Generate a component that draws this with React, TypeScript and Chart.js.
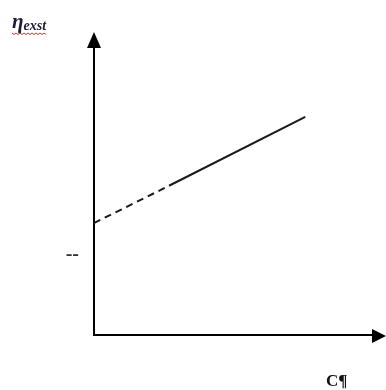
import React, { useEffect, useRef } from "react";
import { Chart, registerables } from "chart.js";

Chart.register(...registerables);

// ---- data ----
const xValues = [0, 2.7, 7.6];
const yValues = [3.9, 5.2, 7.6];
const dashedSegments = [0];
const yTickValues = [2.8];
const yTickLabels = ["--"];
const yAxisLabel = "η";
const yAxisSub = "exst";
const xAxisLabel = "C¶";
const X_MIN = 0;
const X_MAX = 10;
const Y_MIN = 0;
const Y_MAX = 10;

export default function App() {
  const ref = useRef<HTMLCanvasElement>(null);

  useEffect(() => {
    if (!ref.current) return;

    const decorations = {
      id: "decorations",
      afterDraw(chart: any) {
        const { ctx, chartArea: a } = chart;
        ctx.save();
        ctx.fillStyle = "#000";
        // y arrow head
        ctx.beginPath();
        ctx.moveTo(a.left, a.top - 16);
        ctx.lineTo(a.left - 7, a.top);
        ctx.lineTo(a.left + 7, a.top);
        ctx.closePath();
        ctx.fill();
        // x arrow head
        ctx.beginPath();
        ctx.moveTo(a.right + 14, a.bottom + 1);
        ctx.lineTo(a.right, a.bottom - 6);
        ctx.lineTo(a.right, a.bottom + 8);
        ctx.closePath();
        ctx.fill();

        // y axis label
        ctx.fillStyle = "#1c1c3a";
        ctx.textBaseline = "alphabetic";
        ctx.textAlign = "left";
        ctx.font = "italic bold 21px 'Liberation Serif'";
        ctx.fillText(yAxisLabel, 12, 28);
        const w = ctx.measureText(yAxisLabel).width;
        ctx.font = "italic bold 14px 'Liberation Serif'";
        ctx.fillText(yAxisSub, 12 + w, 30);
        const w2 = ctx.measureText(yAxisSub).width;
        // spell-check squiggle
        ctx.strokeStyle = "#e03030";
        ctx.lineWidth = 1;
        ctx.beginPath();
        const x0 = 12;
        const x1 = 12 + w + w2;
        for (let x = x0, i = 0; x <= x1; x += 2, i++) {
          const y = 33 + (i % 2 === 0 ? 0 : 1.5);
          if (x === x0) ctx.moveTo(x, y);
          else ctx.lineTo(x, y);
        }
        ctx.stroke();

        // x axis label
        ctx.fillStyle = "#111";
        ctx.font = "bold 17px 'Liberation Serif'";
        ctx.fillText(xAxisLabel, 326, 386);
        ctx.restore();
      },
    };

    const chart = new Chart(ref.current, {
      type: "line",
      data: {
        datasets: [
          {
            data: xValues.map((x, i) => ({ x, y: yValues[i] })),
            borderColor: "#1a1a1a",
            borderWidth: 2,
            pointRadius: 0,
            fill: false,
            tension: 0,
            segment: {
              borderDash: (c: any) =>
                dashedSegments.includes(c.p0DataIndex) ? [7, 5] : undefined,
            },
          },
        ],
      },
      options: {
        animation: false,
        responsive: false,
        events: [],
        layout: { padding: { top: 48, right: 14, left: 0, bottom: 0 } },
        plugins: {
          legend: { display: false },
          tooltip: { enabled: false },
          title: { display: false },
        },
        scales: {
          x: {
            type: "linear",
            min: X_MIN,
            max: X_MAX,
            grid: { display: false, drawTicks: false },
            ticks: { display: false },
            border: { display: true, color: "#000", width: 2 },
            afterFit: (s: any) => {
              s.height = 55;
            },
          },
          y: {
            type: "linear",
            min: Y_MIN,
            max: Y_MAX,
            grid: { display: false, drawTicks: false },
            border: { display: true, color: "#000", width: 2 },
            afterBuildTicks: (s: any) => {
              s.ticks = yTickValues.map((v) => ({ value: v }));
            },
            ticks: {
              padding: 15,
              color: "#333",
              font: { family: "'Liberation Serif'", size: 20, weight: "bold" },
              callback: (v: any) => {
                const i = yTickValues.indexOf(Number(v));
                return i >= 0 ? yTickLabels[i] : "";
              },
            },
            afterFit: (s: any) => {
              s.width = 94;
            },
          },
        },
      },
      plugins: [decorations],
    });

    return () => chart.destroy();
  }, []);

  return (
    <div style={{ position: "absolute", left: 0, top: 0, width: 386, height: 390, background: "#fff" }}>
      <canvas ref={ref} width={386} height={390} style={{ display: "block" }} />
    </div>
  );
}
